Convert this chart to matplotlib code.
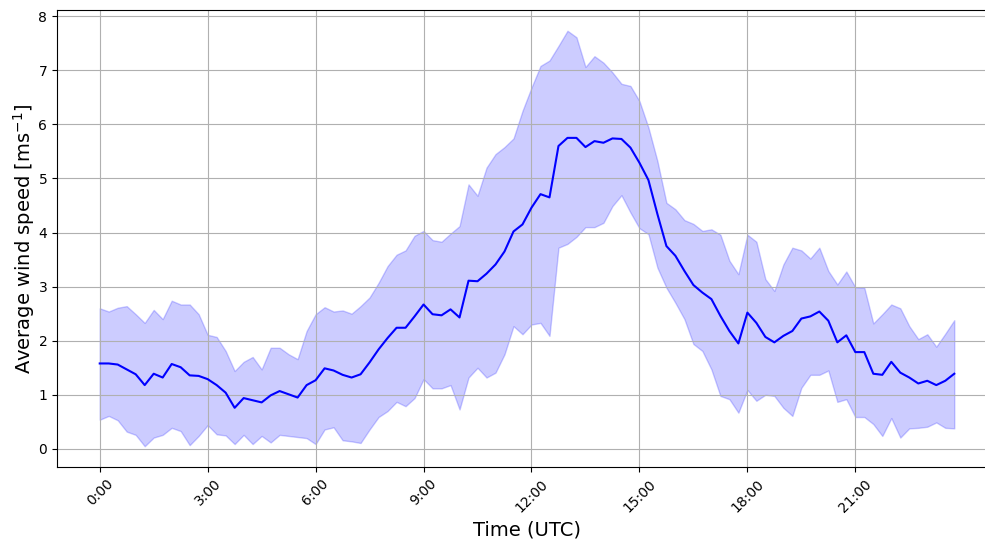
import matplotlib
matplotlib.use("Agg")
import matplotlib.pyplot as plt
import numpy as np

# 15-minute steps, 0:00 .. 23:45
hours = np.arange(96) * 0.25

mean_speed = [
    1.58, 1.58, 1.56, 1.47, 1.38, 1.18, 1.39, 1.32, 1.57, 1.51, 1.36, 1.35, 1.29, 1.18,
    1.04, 0.76, 0.94, 0.90, 0.86, 0.99, 1.07, 1.01, 0.95, 1.18, 1.27, 1.49, 1.45,
    1.37, 1.32, 1.38, 1.60, 1.84, 2.05, 2.24, 2.24, 2.45, 2.67, 2.49, 2.47, 2.58, 2.43,
    3.11, 3.10, 3.24, 3.41, 3.65, 4.02, 4.15, 4.46, 4.71, 4.65, 5.60, 5.75, 5.75,
    5.58, 5.69, 5.66, 5.74, 5.73, 5.57, 5.29, 4.97, 4.34, 3.75, 3.57, 3.29, 3.03,
    2.89, 2.77, 2.46, 2.18, 1.95, 2.52, 2.33, 2.07, 1.97, 2.09, 2.18, 2.41, 2.45, 2.54,
    2.37, 1.97, 2.10, 1.79, 1.79, 1.39, 1.37, 1.61, 1.41, 1.32, 1.21, 1.26, 1.18, 1.26, 1.39,
]

upper_speed = [
    2.60, 2.54, 2.61, 2.64, 2.49, 2.33, 2.57, 2.40, 2.74, 2.67, 2.67, 2.49, 2.11, 2.07,
    1.81, 1.44, 1.61, 1.70, 1.47, 1.87, 1.87, 1.75, 1.66, 2.18, 2.49, 2.62, 2.54,
    2.56, 2.50, 2.64, 2.80, 3.07, 3.38, 3.59, 3.67, 3.94, 4.03, 3.86, 3.83, 3.98, 4.12,
    4.89, 4.68, 5.20, 5.45, 5.58, 5.74, 6.25, 6.68, 7.08, 7.18, 7.45, 7.73, 7.61,
    7.06, 7.26, 7.14, 6.96, 6.75, 6.71, 6.43, 5.94, 5.32, 4.55, 4.43, 4.23, 4.16,
    4.03, 4.06, 3.96, 3.48, 3.23, 3.96, 3.83, 3.14, 2.92, 3.41, 3.72, 3.67, 3.52, 3.72,
    3.29, 3.04, 3.28, 2.99, 2.98, 2.32, 2.49, 2.67, 2.60, 2.27, 2.03, 2.12, 1.89, 2.13, 2.38,
]

lower_speed = [
    0.54, 0.61, 0.53, 0.32, 0.26, 0.05, 0.21, 0.26, 0.39, 0.33, 0.07, 0.24, 0.44, 0.27,
    0.25, 0.09, 0.26, 0.09, 0.24, 0.12, 0.26, 0.24, 0.22, 0.20, 0.09, 0.36, 0.40,
    0.16, 0.14, 0.11, 0.36, 0.59, 0.70, 0.87, 0.79, 0.94, 1.29, 1.12, 1.12, 1.18, 0.73,
    1.32, 1.50, 1.32, 1.41, 1.75, 2.27, 2.12, 2.30, 2.33, 2.09, 3.72, 3.79, 3.92,
    4.10, 4.10, 4.18, 4.49, 4.69, 4.37, 4.08, 3.97, 3.35, 2.98, 2.70, 2.40, 1.94,
    1.81, 1.47, 0.98, 0.92, 0.67, 1.09, 0.89, 1.00, 0.98, 0.76, 0.61, 1.13, 1.37, 1.37,
    1.45, 0.87, 0.92, 0.59, 0.59, 0.46, 0.24, 0.57, 0.21, 0.38, 0.39, 0.41, 0.49, 0.39, 0.38,
]

tick_hours = [0, 3, 6, 9, 12, 15, 18, 21]
tick_labels = ["0:00", "3:00", "6:00", "9:00", "12:00", "15:00", "18:00", "21:00"]

fig = plt.figure(figsize=(9.85, 5.43), dpi=100)
ax = fig.add_axes([57 / 985, 76 / 543, 940 / 985, 457 / 543])

ax.fill_between(hours, lower_speed, upper_speed, color="blue", alpha=0.2)
ax.plot(hours, mean_speed, color="blue", linewidth=1.5)

ax.set_xticks(tick_hours)
ax.set_xticklabels(tick_labels, rotation=45)
ax.set_yticks(range(0, 9))
ax.grid(True)
ax.set_xlabel("Time (UTC)", fontsize=14)
ax.set_ylabel("Average wind speed [ms$^{-1}$]", fontsize=14, labelpad=1)

fig.savefig("out.png", dpi=100)
